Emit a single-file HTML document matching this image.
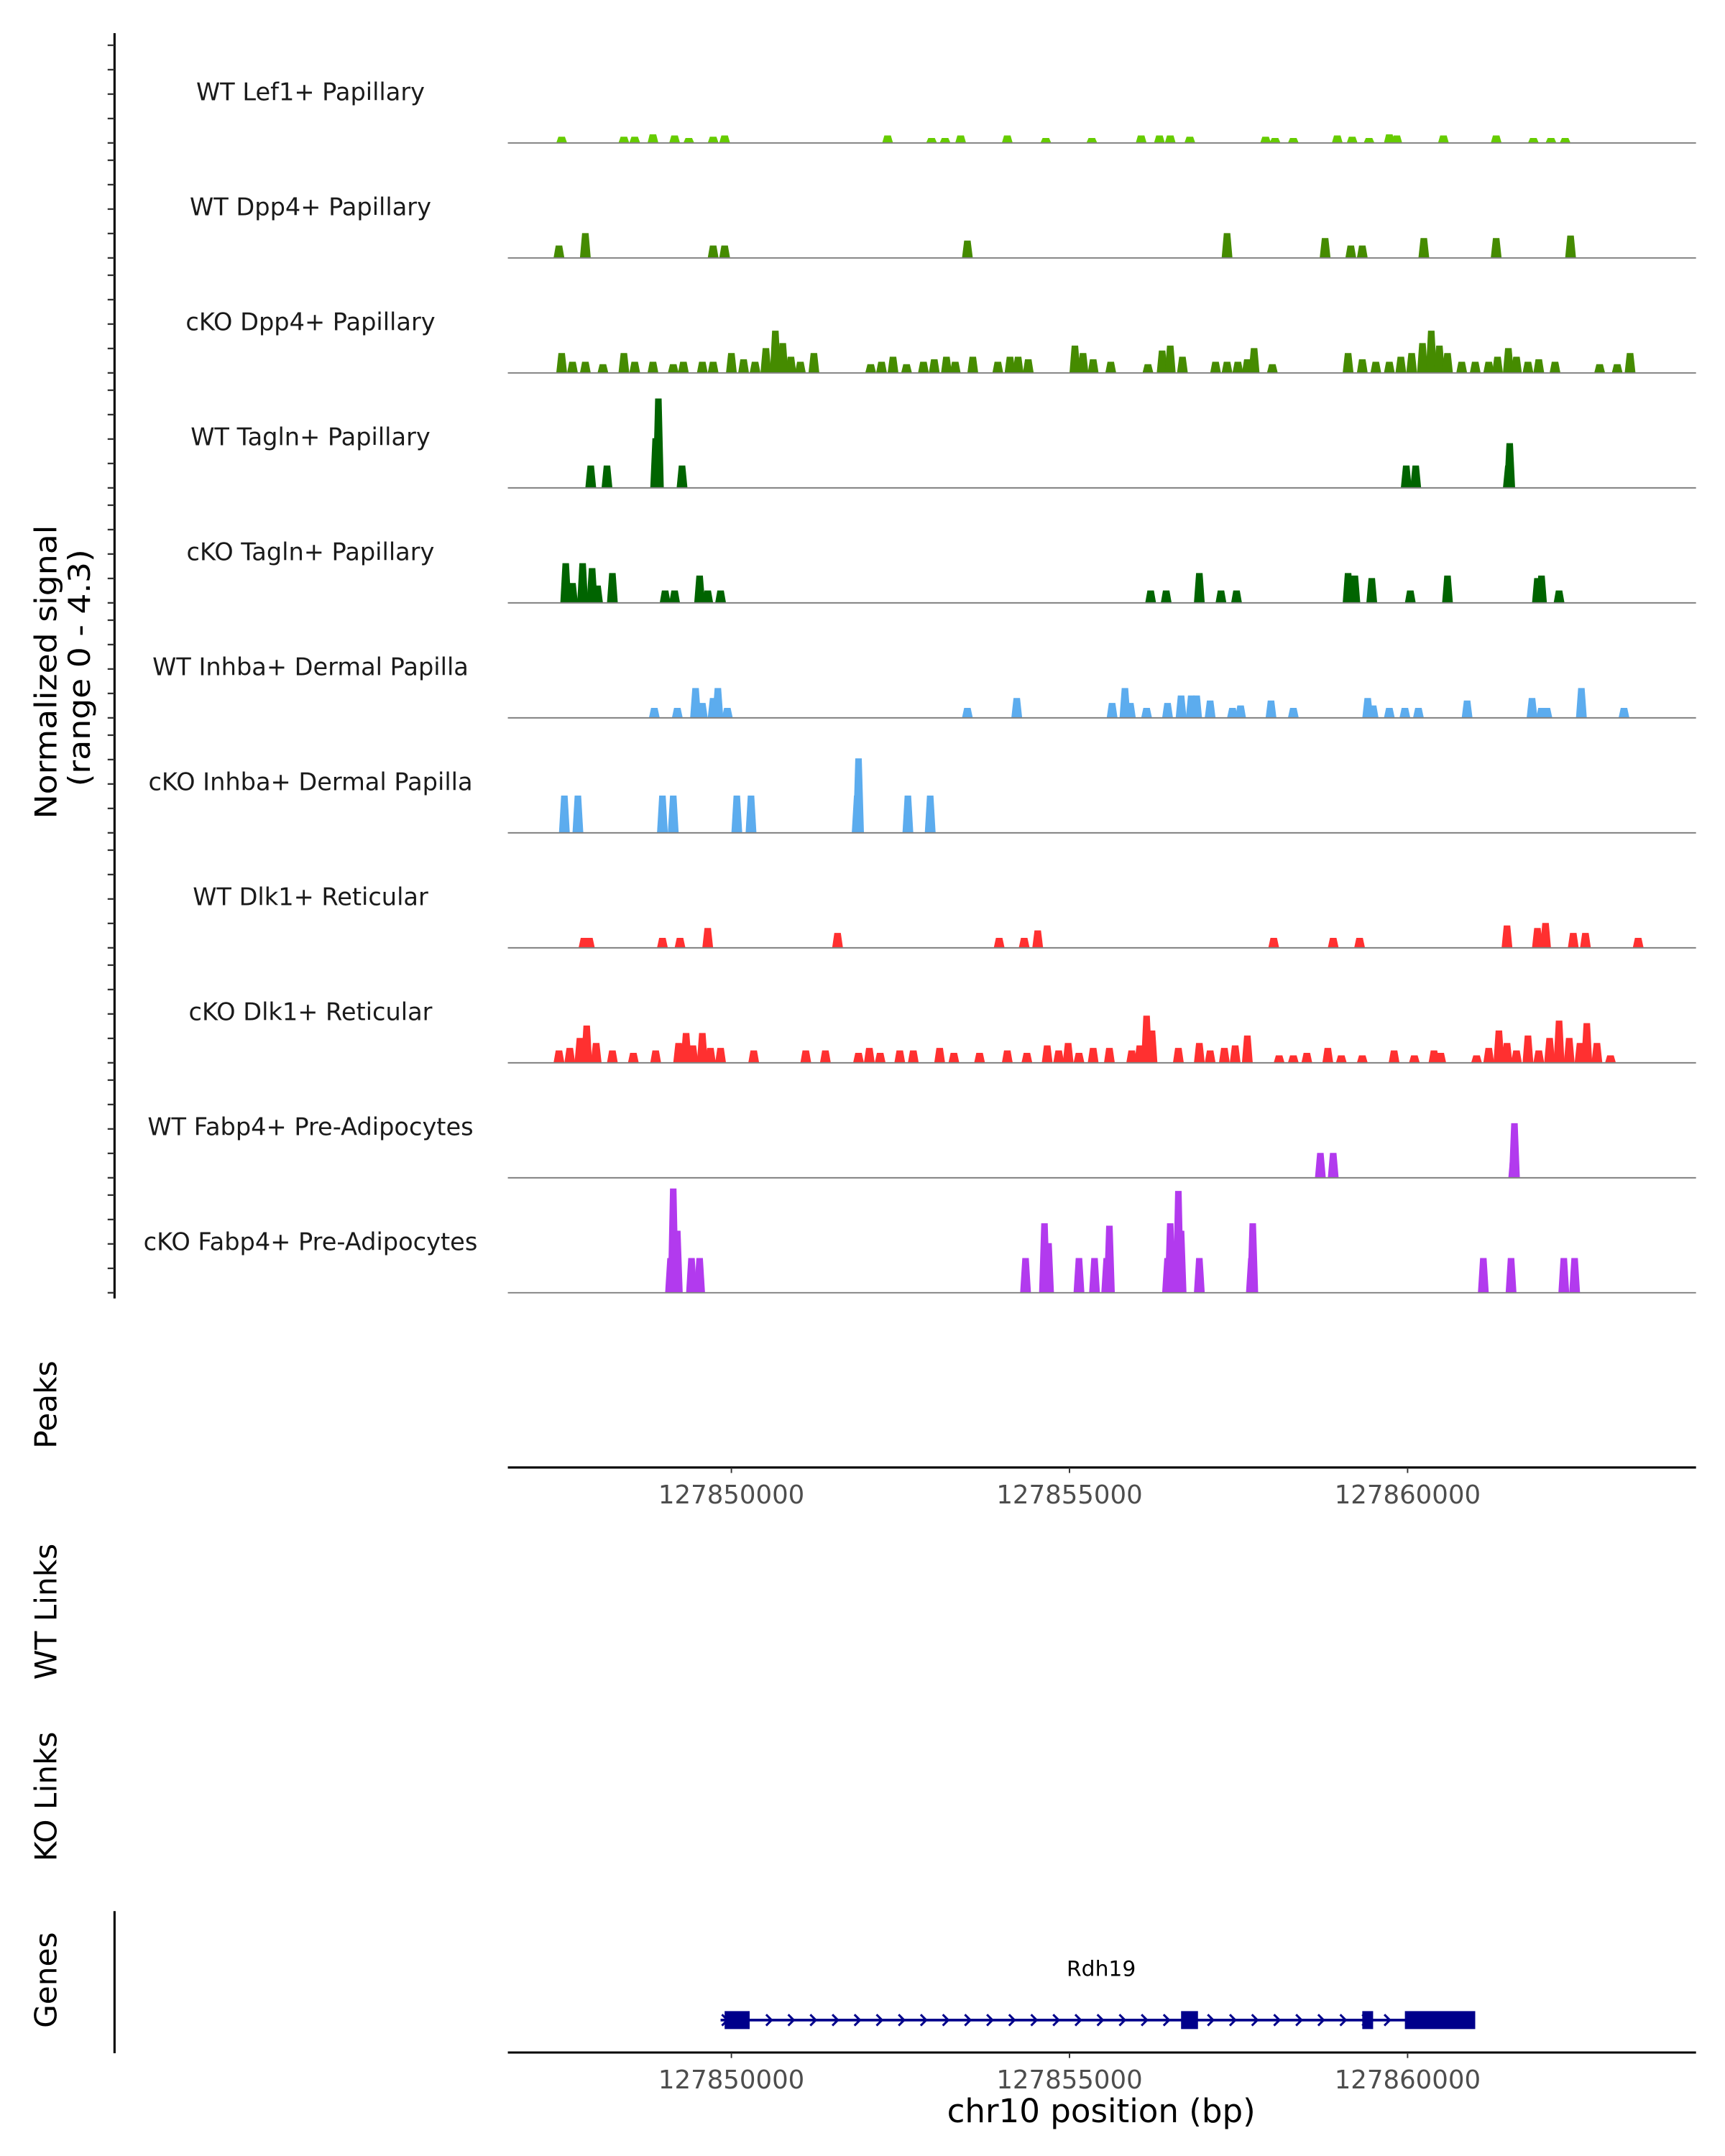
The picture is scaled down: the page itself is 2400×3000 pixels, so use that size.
<!DOCTYPE html>
<html><head><meta charset="utf-8"><style>
html,body{margin:0;padding:0;background:#fff;}
svg{display:block;font-family:"DejaVu Sans","Liberation Sans",sans-serif;}
</style></head><body>
<svg id="chart" width="2400" height="3000" viewBox="0 0 1250 1562.5" xmlns="http://www.w3.org/2000/svg">
<g id="axes"></g>
<g id="tracks"></g>
<g id="genes"></g>
</svg>
<script>
const ORIGIN_KB = 127850;
const trackNames = ["WT Lef1+ Papillary","WT Dpp4+ Papillary","cKO Dpp4+ Papillary","WT Tagln+ Papillary","cKO Tagln+ Papillary","WT Inhba+ Dermal Papilla","cKO Inhba+ Dermal Papilla","WT Dlk1+ Reticular","cKO Dlk1+ Reticular","WT Fabp4+ Pre-Adipocytes","cKO Fabp4+ Pre-Adipocytes"];
const trackColors = ["#66cc00","#458b00","#458b00","#006400","#006400","#5cacee","#5cacee","#ff3030","#ff3030","#b23aee","#b23aee"];
// peaks: [kb offset from 127850000, signal height]
const lef1WT = [[-2.51,.25],[-1.59,.25],[-1.43,.25],[-1.16,.35],[-0.84,.3],[-0.63,.2],[-0.27,.25],[-0.10,.3],[2.31,.3],[2.96,.2],[3.16,.2],[3.39,.3],[4.08,.3],[4.65,.2],[5.33,.2],[6.06,.3],[6.33,.3],[6.49,.3],[6.78,.25],[7.90,.25],[8.04,.2],[8.31,.2],[8.96,.3],[9.18,.25],[9.43,.2],[9.73,.35],[9.84,.3],[10.53,.3],[11.31,.3],[11.86,.2],[12.12,.2],[12.33,.2]];
const dpp4WT = [[-2.55,.5],[-2.16,1.0],[-0.27,.5],[-0.10,.5],[3.49,.7],[7.33,1.0],[8.78,.8],[9.16,.5],[9.33,.5],[10.24,.8],[11.31,.8],[12.41,.9]];
const dpp4KO = [[-2.51,.8],[-2.35,.45],[-2.16,.45],[-1.90,.35],[-1.59,.8],[-1.43,.45],[-1.16,.45],[-0.86,.35],[-0.71,.45],[-0.43,.45],[-0.27,.45],[0,.8],[0.18,.55],[0.35,.45],[0.51,1.0],[0.65,1.7],[0.76,1.2],[0.88,.65],[1.02,.45],[1.22,.8],[2.06,.35],[2.22,.45],[2.39,.65],[2.59,.35],[2.84,.45],[3.00,.55],[3.18,.65],[3.31,.45],[3.57,.65],[3.94,.45],[4.12,.65],[4.24,.65],[4.39,.55],[5.08,1.1],[5.20,.8],[5.35,.55],[5.61,.45],[6.16,.35],[6.37,.9],[6.49,1.1],[6.67,.65],[7.16,.45],[7.33,.45],[7.49,.45],[7.63,.55],[7.73,1.0],[8.00,.35],[9.12,.8],[9.33,.55],[9.53,.45],[9.73,.45],[9.90,.65],[10.06,.8],[10.22,1.2],[10.35,1.7],[10.47,1.1],[10.59,.8],[10.80,.45],[11.00,.45],[11.20,.45],[11.33,.65],[11.49,1.0],[11.61,.65],[11.78,.45],[11.94,.55],[12.18,.45],[12.84,.35],[13.10,.35],[13.29,.8]];
const taglnWT = [[-2.08,.9],[-1.84,.9],[-1.12,2.0],[-1.08,3.6],[-0.73,.9],[9.98,.9],[10.12,.9],[11.49,.9],[11.51,1.8]];
const taglnKO = [[-2.45,1.6],[-2.35,.8],[-2.20,1.6],[-2.06,1.4],[-1.98,.7],[-1.76,1.2],[-0.98,.5],[-0.84,.5],[-0.47,1.1],[-0.35,.5],[-0.16,.5],[6.20,.5],[6.43,.5],[6.92,1.2],[7.24,.5],[7.47,.5],[9.12,1.2],[9.22,1.1],[9.47,1.0],[10.04,.5],[10.59,1.1],[11.92,1.0],[11.98,1.1],[12.24,.5]];
const inhbaWT = [[-1.14,.4],[-0.80,.4],[-0.53,1.2],[-0.43,.6],[-0.27,.8],[-0.20,1.2],[-0.06,.4],[3.49,.4],[4.22,.8],[5.63,.6],[5.82,1.2],[5.90,.6],[6.14,.4],[6.45,.6],[6.65,.9],[6.80,.9],[6.88,.9],[7.08,.7],[7.41,.4],[7.53,.5],[7.98,.7],[8.31,.4],[9.41,.8],[9.49,.5],[9.73,.4],[9.96,.4],[10.16,.4],[10.88,.7],[11.84,.8],[11.98,.4],[12.06,.4],[12.57,1.2],[13.20,.4]];
const inhbaKO = [[-2.47,1.5],[-2.27,1.5],[-1.02,1.5],[-0.86,1.5],[0.08,1.5],[0.29,1.5],[1.86,1.5],[1.88,3.0],[2.61,1.5],[2.94,1.5]];
const dlk1WT = [[-2.18,.4],[-2.10,.4],[-1.02,.4],[-0.76,.4],[-0.35,.8],[1.57,.6],[3.96,.4],[4.33,.4],[4.53,.7],[8.02,.4],[8.90,.4],[9.29,.4],[11.47,.9],[11.92,.8],[12.04,1.0],[12.45,.6],[12.63,.6],[13.41,.4]];
const dlk1KO = [[-2.55,.5],[-2.39,.6],[-2.24,1.0],[-2.14,1.5],[-2.00,.8],[-1.76,.5],[-1.45,.4],[-1.12,.5],[-0.78,.8],[-0.67,1.2],[-0.57,.7],[-0.43,1.2],[-0.31,.6],[-0.16,.6],[0.33,.5],[1.10,.5],[1.39,.5],[1.88,.4],[2.04,.6],[2.20,.4],[2.49,.5],[2.69,.5],[3.08,.6],[3.29,.4],[3.67,.4],[4.08,.5],[4.37,.4],[4.67,.7],[4.84,.5],[4.98,.8],[5.14,.4],[5.35,.6],[5.59,.6],[5.92,.5],[6.04,.7],[6.14,1.9],[6.22,1.3],[6.61,.6],[6.92,.8],[7.08,.5],[7.29,.6],[7.45,.7],[7.63,1.1],[8.10,.3],[8.31,.3],[8.51,.4],[8.82,.6],[9.02,.3],[9.33,.3],[9.80,.5],[10.10,.3],[10.39,.5],[10.49,.4],[11.02,.3],[11.20,.6],[11.35,1.3],[11.47,.8],[11.61,.5],[11.78,1.1],[11.94,.5],[12.10,1.0],[12.24,1.7],[12.39,1.0],[12.55,.8],[12.65,1.6],[12.80,.8],[13.00,.3]];
const fabp4WT = [[8.71,1.0],[8.90,1.0],[11.57,1.0],[11.58,2.2]];
const fabp4KO = [[-0.90,1.4],[-0.86,4.2],[-0.80,2.5],[-0.59,1.4],[-0.47,1.4],[4.35,1.4],[4.63,2.8],[4.69,2.0],[5.14,1.4],[5.37,1.4],[5.55,1.4],[5.59,2.7],[6.45,1.4],[6.49,2.8],[6.61,4.1],[6.65,2.5],[6.92,1.4],[7.69,1.4],[7.71,2.8],[11.12,1.4],[11.53,1.4],[12.31,1.4],[12.47,1.4]];
const trackData = [lef1WT,dpp4WT,dpp4KO,taglnWT,taglnKO,inhbaWT,inhbaKO,dlk1WT,dlk1KO,fabp4WT,fabp4KO];
const xTicks = [127850000,127855000,127860000];
const geneName = "Rdh19";
const geneSpan = [-0.16,10.96];
const exons = [[-0.10,0.27],[6.65,6.90],[9.33,9.49],[9.96,11.0]];

const NS="http://www.w3.org/2000/svg";
function mk(tag,attrs,parent){const e=document.createElementNS(NS,tag);for(const k in attrs)e.setAttribute(k,attrs[k]);parent.appendChild(e);return e;}
function xScale(kbOff){return 530 + kbOff*49;}
function yScale(v,base){return base - v*18;}
const axes=document.getElementById('axes'), tracksG=document.getElementById('tracks'), genesG=document.getElementById('genes');

let l=mk('line',{x1:83,y1:24,x2:83,y2:941,stroke:'#000','stroke-width':1.6},axes);


for(let i=0;i<11;i++){for(let k=0;k<5;k++){const y=32.8+83.33*i+17.7*k;const t=mk('line',{x1:78,y1:y,x2:83,y2:y,stroke:'#333','stroke-width':1.2},axes);

}}
let yt=mk('text',{transform:'translate(41,487) rotate(-90)','text-anchor':'middle','font-size':22,fill:'#000',textLength:213,lengthAdjust:'spacingAndGlyphs'},axes);yt.textContent='Normalized signal';


let yt2=mk('text',{transform:'translate(65,484) rotate(-90)','text-anchor':'middle','font-size':22,fill:'#000',textLength:172,lengthAdjust:'spacingAndGlyphs'},axes);yt2.textContent='(range 0 - 4.3)';



trackData.forEach((peaks,i)=>{
  const base=103.6+83.33*i;
  const g=mk('g',{},tracksG);
  
  
  const lab=mk('text',{x:225,y:base-31,'text-anchor':'middle','font-size':17.5,fill:'#1a1a1a'},g);lab.textContent=trackNames[i];
  
  
  peaks.forEach(p=>{
    const cx=xScale(p[0]), w=0.16*49/2, top=yScale(p[1],base);
    const pg=mk('polygon',{points:`${cx-w},${base} ${cx-w*0.6},${top} ${cx+w*0.6},${top} ${cx+w},${base}`,fill:trackColors[i]},g);
    
    
  });
  const bl=mk('line',{x1:368,y1:base,x2:1229,y2:base,stroke:'#808080','stroke-width':1},g);
  
  
});

function panelLabel(txt,y,name){const t=mk('text',{transform:`translate(41,${y}) rotate(-90)`,'text-anchor':'middle','font-size':22,fill:'#000'},axes);t.textContent=txt;

}
panelLabel('Peaks',1018,'peaks-label');
panelLabel('WT Links',1168,'wt-links-label');
panelLabel('KO Links',1302,'ko-links-label');
panelLabel('Genes',1435,'genes-label');

function xAxis(y,name){const a=mk('line',{x1:368,y1:y,x2:1229,y2:y,stroke:'#000','stroke-width':1.6},axes);


xTicks.forEach(v=>{const x=xScale(v/1000-ORIGIN_KB);const tk=mk('line',{x1:x,y1:y,x2:x,y2:y+4,stroke:'#333'},axes);


const t=mk('text',{x:x,y:y+26,'text-anchor':'middle','font-size':18.5,fill:'#4d4d4d'},axes);t.textContent=String(v);

});}
xAxis(1063.5,'peaks-x-axis');
xAxis(1487.5,'genes-x-axis');
const xt=mk('text',{x:798,y:1538,'text-anchor':'middle','font-size':23.5,fill:'#000'},axes);xt.textContent='chr10 position (bp)';


const ga=mk('line',{x1:83,y1:1385,x2:83,y2:1488,stroke:'#000','stroke-width':1.6},axes);



const gy=1464;
const gl=mk('line',{x1:xScale(geneSpan[0]),y1:gy,x2:xScale(geneSpan[1]),y2:gy,stroke:'#00008b','stroke-width':2},genesG);


for(let x=xScale(geneSpan[0])+4;x<xScale(geneSpan[1])-4;x+=16){const a=mk('polyline',{points:`${x-3},${gy-4} ${x+1},${gy} ${x-3},${gy+4}`,fill:'none',stroke:'#00008b','stroke-width':1.6},genesG);

}
exons.forEach(e=>{const r=mk('rect',{x:xScale(e[0]),y:gy-6.5,width:xScale(e[1])-xScale(e[0]),height:13,fill:'#00008b'},genesG);

});
const gn=mk('text',{x:798,y:1432,'text-anchor':'middle','font-size':15.5,fill:'#000'},genesG);gn.textContent=geneName;


</script>
</body></html>
